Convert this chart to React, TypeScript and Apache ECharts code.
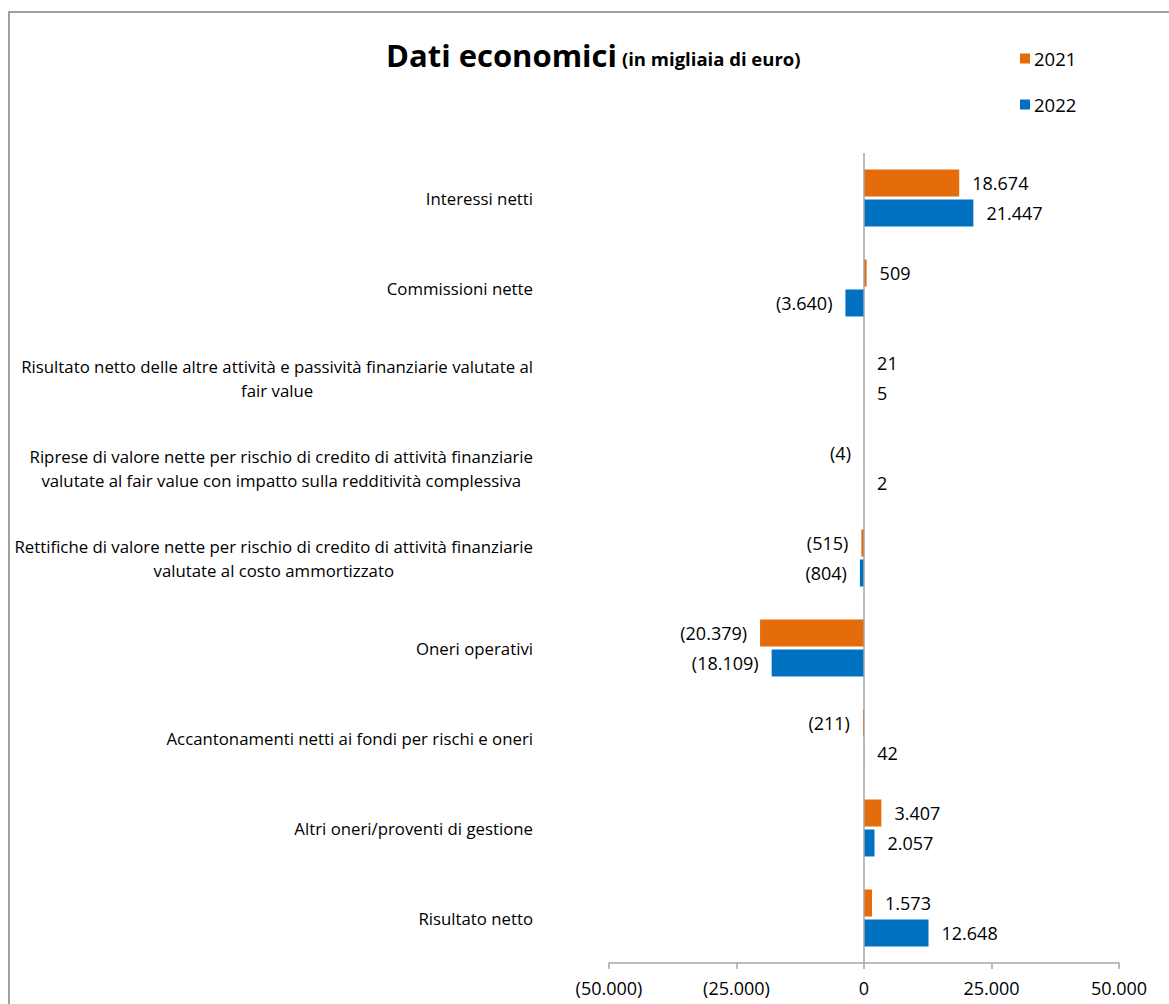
import React, { useEffect, useRef } from "react";
import * as echarts from "echarts";

const categories = [
  "Interessi netti",
  "Commissioni nette",
  "Risultato netto delle altre attività e passività finanziarie valutate al\nfair value",
  "Riprese di valore nette per rischio di credito di attività finanziarie\nvalutate al fair value con impatto sulla redditività complessiva",
  "Rettifiche di valore nette per rischio di credito di attività finanziarie\nvalutate al costo ammortizzato",
  "Oneri operativi",
  "Accantonamenti netti ai fondi per rischi e oneri",
  "Altri oneri/proventi di gestione",
  "Risultato netto",
];
const values2021 = [18674, 509, 21, -4, -515, -20379, -211, 3407, 1573];
const values2022 = [21447, -3640, 5, 2, -804, -18109, 42, 2057, 12648];
const seriesNames = ["2021", "2022"];
const titleMain = "Dati economici";
const titleSub = "(in migliaia di euro)";

const FONT = "'Open Sans', sans-serif";
const ORANGE = "#E46C0A";
const BLUE = "#0070C0";

function fmt(v: number): string {
  const s = Math.abs(Math.round(v))
    .toString()
    .replace(/\B(?=(\d{3})+(?!\d))/g, ".");
  return v < 0 ? `(${s})` : s;
}

function mkData(vals: number[]) {
  return vals.map((v) => ({
    value: v,
    label: { position: v < 0 ? "left" : "right" },
  }));
}

export default function App() {
  const ref = useRef<HTMLDivElement>(null);
  useEffect(() => {
    if (!ref.current) return;
    const chart = echarts.init(ref.current, undefined, { renderer: "svg" });
    const labelCommon = {
      show: true,
      distance: 13,
      color: "#000",
      fontFamily: FONT,
      fontSize: 18,
      formatter: (p: any) => fmt(p.value),
    };
    chart.setOption({
      animation: false,
      backgroundColor: "#fff",
      title: {
        text: `{a|${titleMain}} {b|${titleSub}}`,
        left: 381,
        top: 34,
        textStyle: {
          rich: {
            a: { fontFamily: FONT, fontSize: 31, fontWeight: "bold", color: "#000" },
            b: { fontFamily: FONT, fontSize: 18.5, fontWeight: "bold", color: "#000", padding: [7, 0, 0, 0] },
          },
        },
      },
      legend: {
        orient: "vertical",
        left: 1015,
        top: 44,
        itemWidth: 10,
        itemHeight: 10,
        itemGap: 27,
        icon: "rect",
        data: seriesNames,
        textStyle: { fontFamily: FONT, fontSize: 18.5, color: "#000", padding: [0, 0, 0, -1] },
      },
      graphic: [
        {
          type: "rect",
          shape: { x: 9, y: 12, width: 1170, height: 1000 },
          style: { fill: "none", stroke: "#A0A0A0", lineWidth: 2 },
          silent: true,
        },
      ],
      grid: { left: 609, right: 50, top: 153, bottom: 41, containLabel: false },
      xAxis: {
        type: "value",
        min: -50000,
        max: 50000,
        interval: 25000,
        splitLine: { show: false },
        axisLine: { show: true, lineStyle: { color: "#A6A6A6", width: 1.5 } },
        axisTick: { show: true, length: 6, lineStyle: { color: "#A6A6A6", width: 1.5 } },
        axisLabel: {
          formatter: (v: number) => fmt(v),
          fontFamily: FONT,
          fontSize: 18,
          color: "#000",
          margin: 16,
        },
      },
      yAxis: {
        type: "category",
        inverse: true,
        data: categories,
        axisLine: { show: false },
        axisTick: { show: false },
        axisLabel: {
          margin: 76,
          formatter: (v: string) =>
            v
              .split("\n")
              .map((l) => `{c|${l}}`)
              .join("\n"),
          rich: {
            c: {
              align: "center",
              fontFamily: FONT,
              fontSize: 16.8,
              color: "#000",
              lineHeight: 24,
            },
          },
        },
      },
      series: [
        {
          name: seriesNames[0],
          type: "bar",
          data: mkData(values2021),
          barWidth: 27,
          barGap: "11%",
          itemStyle: { color: ORANGE },
          label: labelCommon,
          markLine: {
            silent: true,
            symbol: ["none", "none"],
            label: { show: false },
            lineStyle: { color: "#A6A6A6", width: 1.5, type: "solid" },
            data: [{ xAxis: 0 }],
          },
        },
        {
          name: seriesNames[1],
          type: "bar",
          data: mkData(values2022),
          barWidth: 27,
          barGap: "11%",
          itemStyle: { color: BLUE },
          label: labelCommon,
        },
      ],
    });
    return () => chart.dispose();
  }, []);
  return (
    <div
      ref={ref}
      style={{ position: "fixed", left: 0, top: 0, width: 1169, height: 1004 }}
    />
  );
}
